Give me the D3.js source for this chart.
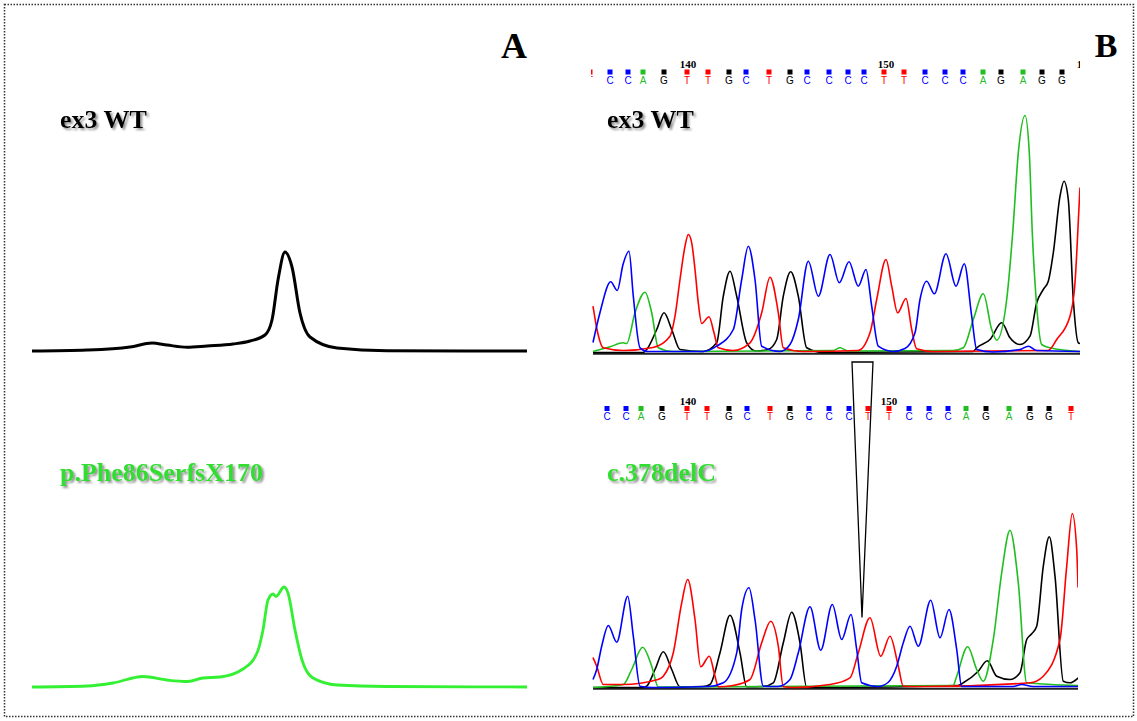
<!DOCTYPE html>
<html>
<head>
<meta charset="utf-8">
<script src="https://cdn.jsdelivr.net/npm/d3@7"></script>
<style>
body{margin:0;background:#fff;}
</style>
</head>
<body>
<div id="chart"></div>
<script>
// ---- panel A : elution profiles (x = time units, y = signal) ----
var wtProfile = [[0,0],[55,1],[98,4],[120,8],[135,6],[155,3.7],[175,5],[201,7],[218,10],[233,16],[240,31],[246,71],[253,99],[260,84],[268,38],[278,14],[305,3],[355,0.3],[495,0]];
var mutProfile = [[0,0],[55,1],[81,4],[111,10.5],[135,7],[156,5.5],[171,9],[188,10],[211,18],[225,34],[231,57],[236,87],[241,93],[244,90.5],[252,100],[256,94],[263,57],[270,27],[281,9],[305,2],[355,0.5],[495,0]];

// ---- panel B : chromatogram channels (x = scan, y = intensity) ----
var wtC = [[0,10],[7,40],[17.7,70.7],[24.3,62],[30,88],[36,101.3],[40.3,56.3],[47,4.7],[55,1],[110,1],[123.7,6.3],[140.3,23],[148.7,73],[155.3,106.3],[162,73],[168.7,6.3],[187,1],[197,8],[205.3,33],[215.3,91.3],[225.3,56.3],[237,98],[246.3,69.7],[256,90.7],[265.3,66.3],[273,83],[278.7,46.3],[285.3,6.3],[300,1],[312,4],[322,19.7],[327,53],[333.7,71.3],[341.3,58.7],[353,98.7],[363,66.3],[371.3,88.7],[378.7,36.3],[383.7,3],[400,0.5],[427,3],[435.3,6.3],[443.7,2],[487,1]];
var wtA = [[0,1],[17,5.7],[30.3,9.7],[33.7,9],[42,39.7],[52,60.3],[58.7,39.7],[65.3,4.7],[80,1],[240,2],[247,4.7],[255,1.5],[360,2],[370.3,4.7],[380.3,33],[390.3,58.7],[398.7,23],[403.7,12.3],[413.7,53],[419.7,119.7],[425.3,199.7],[432,237],[436.3,199.7],[439.3,119.7],[443.7,46.3],[448.7,8],[457,4.7],[487,1]];
var wtG = [[0,0],[50,0],[53.7,3],[63.7,23],[71,39.7],[78.7,23],[87,3],[110,1],[123.7,9.7],[130.3,56.3],[137,81.3],[143.7,56.3],[153.7,9.7],[163,1.5],[175,3],[183.7,13],[190.3,56.3],[197.7,80.7],[205.3,56.3],[213.7,4.7],[230,0],[380,1],[383.7,4.7],[397,13],[408.7,29.7],[417,14.7],[427,8],[437,16.3],[443.7,49.7],[450.3,63],[455.3,71.3],[460.3,99.7],[467,156.3],[471,171.3],[475.3,153],[480.3,53],[485.3,9.7],[487,9]];
var wtT = [[0,46.3],[4,23],[10.3,4.7],[30,2],[60,5],[77,16.3],[82,36.3],[87,73],[92,106.3],[95.3,118],[98.7,109.7],[102,83],[105.3,49.7],[108.7,29],[116,35.7],[121,19.7],[125.3,4.7],[140,2],[157,9.7],[168.7,39.7],[177,75.3],[185.3,39.7],[190.3,4.7],[210,1],[265,2],[277,19.7],[283.7,53],[293,93],[298.7,66.3],[304.7,39.7],[313,54],[318.7,23],[323.7,3.7],[340,1],[455,2],[463.7,13],[477,36.3],[482,69.7],[486.3,151.3],[487,165]];

var delC = [[0,8],[3.7,18],[8.7,41.3],[15.3,62],[23.7,45.3],[34.7,91.3],[40.3,51.3],[47,1.3],[60,0],[115,1],[130.3,4.7],[143.7,34.7],[148.7,78],[156,99.7],[162,68],[170.3,1.3],[185,1],[197,8],[205.3,34.7],[217,80.7],[227.7,37.3],[239.3,83],[248.7,48],[258,73],[263.7,38],[268.7,4.7],[285,1],[295,5],[303.7,21.3],[310.3,44.7],[317,61.3],[325.3,41.3],[337.7,87.3],[347,49.7],[356,78],[363.7,38],[368.7,1],[420,1],[428.7,3],[440,1],[485,1]];
var delA = [[0,0],[30.3,3],[38.7,18],[49.7,40.3],[58.7,21.3],[65.3,0.5],[80,0.5],[360,2],[363.7,11.3],[374.7,40.7],[383.7,18],[390.3,6.3],[400.3,48],[408.7,114.7],[417,157.3],[425.3,104.7],[433.7,4.7],[485,2]];
var delG = [[0,0],[50,0],[53.7,1.3],[62,18],[70.3,35.7],[78.7,18],[87,0.7],[110,1],[117,3],[127,34.7],[137,72.3],[147,34.7],[153.7,0.7],[170,1],[180.3,4.7],[190.3,44.7],[198.7,75.3],[207,44.7],[213.7,0],[230,0],[365,2],[370.3,4.7],[385.3,16.3],[394.3,26.7],[403.7,11.3],[417,8],[427,14.7],[433.7,48],[438.7,53.7],[443.7,61.3],[450.3,121.3],[456.3,150.7],[462,111.3],[470.3,6.3],[477,4.7],[485.3,9.7]];
var delT = [[0,30],[3.7,21.3],[10.3,3],[30,3],[65,8],[70.3,11.3],[80.3,34.7],[88.7,84.7],[94.7,108],[102,68],[107.7,20.7],[116.3,31.3],[122,11.3],[125.3,0.7],[140,2],[157,8],[168.7,44.7],[177.7,66.3],[185.3,41.3],[190.3,0.7],[200,0],[237,3],[257,9.7],[265.3,34.7],[277,69.7],[287.7,31.3],[297,51.3],[305.3,21.3],[310.3,1.3],[330,1],[437,4.7],[450.3,11.3],[467,48],[473.7,121.3],[479.3,174],[483.7,138],[485,100]];

// base calls
var wtSeq = "TCCAGTTGCTGCCCCTTCCCAGAGG".split("");
var wtSeqScan = [-3,17,35,50,71,94,115,136,153,176,197,214,236,255,271,291,311,332,352,370,390,408,430,449,469];
var wtTickNum = [140,150,160];
var wtTickScan = [95,293,492];

var delSeq = "CCAGTTGCTGCCCTTCCCAGAGGT".split("");
var delSeqScan = [14,33,48,69,94,114,136,154,177,197,216,236,256,275,296,316,336,355,373,393,416,437,456,478];
var delTickNum = [140,150];
var delTickScan = [95,296];

// deleted base marker (scan range in WT trace, tip scan / level in mutant trace)
var deletion = {from: 259, to: 280, tip: 269, level: 70};

var baseColor = {C: "#0000ff", A: "#1fbf1f", G: "#000000", T: "#ff0000"};

// ---- svg ----
var W = 1137, H = 721;
var svg = d3.select("#chart").append("svg")
  .attr("width", W).attr("height", H);

var defs = svg.append("defs");
var f = defs.append("filter").attr("id", "shadow").attr("x", "-10%").attr("y", "-30%").attr("width", "130%").attr("height", "160%");
f.append("feDropShadow").attr("dx", 2).attr("dy", 2).attr("stdDeviation", 0.8).attr("flood-color", "#777").attr("flood-opacity", 0.8);

defs.append("clipPath").attr("id", "clipTop").append("rect")
  .attr("x", 591).attr("y", 60).attr("width", 489).attr("height", 300);
defs.append("clipPath").attr("id", "clipBot").append("rect")
  .attr("x", 592).attr("y", 395).attr("width", 486).attr("height", 300);

// frame
svg.append("rect")
  .attr("x", 4.5).attr("y", 4.5).attr("width", 1129).attr("height", 712)
  .attr("fill", "none").attr("stroke", "#333").attr("stroke-width", 1.5)
  .attr("stroke-dasharray", "1.5,1.5");

// panel letters
svg.append("text").attr("x", 514).attr("y", 58).attr("text-anchor", "middle")
  .style("font", "bold 36px 'Liberation Serif', serif").text("A");
svg.append("text").attr("x", 1106).attr("y", 57).attr("text-anchor", "middle")
  .style("font", "bold 34px 'Liberation Serif', serif").text("B");

// ---- panel A ----
var xL = d3.scaleLinear().domain([0, 495]).range([32, 527]);
var yLTop = d3.scaleLinear().domain([0, 100]).range([351, 251]);
var yLBot = d3.scaleLinear().domain([0, 100]).range([687, 587]);

var lineLTop = d3.line().x(function(d){return xL(d[0]);}).y(function(d){return yLTop(d[1]);}).curve(d3.curveMonotoneX);
var lineLBot = d3.line().x(function(d){return xL(d[0]);}).y(function(d){return yLBot(d[1]);}).curve(d3.curveMonotoneX);

svg.append("path").attr("d", lineLTop(wtProfile))
  .attr("fill", "none").attr("stroke", "#000").attr("stroke-width", 3);
svg.append("path").attr("d", lineLBot(mutProfile))
  .attr("fill", "none").attr("stroke", "#33f033").attr("stroke-width", 2.8);

function label(x, y, txt, col) {
  svg.append("text").attr("x", x).attr("y", y)
    .attr("filter", "url(#shadow)")
    .style("font", "bold 26px 'Liberation Serif', serif")
    .style("fill", col).text(txt);
}
label(60, 128, "ex3 WT", "#000");
label(60, 481, "p.Phe86SerfsX170", "#33dd33");
label(607, 128, "ex3 WT", "#000");
label(607, 481, "c.378delC", "#33dd33");

// ---- panel B ----
var xR = d3.scaleLinear().domain([0, 487]).range([593, 1080]);
var yRTop = d3.scaleLinear().domain([0, 240]).range([352.5, 112.5]);
var yRBot = d3.scaleLinear().domain([0, 240]).range([687.5, 447.5]);

function drawTrace(channels, yS, clipId, xEnd) {
  var g = svg.append("g").attr("clip-path", "url(#" + clipId + ")");
  g.append("line")
    .attr("x1", xR(0)).attr("x2", xEnd)
    .attr("y1", yS(0) + 1.2).attr("y2", yS(0) + 1.2)
    .attr("stroke", "#222").attr("stroke-width", 2);
  var ln = d3.line().x(function(d){return xR(d[0]);}).y(function(d){return yS(d[1]);}).curve(d3.curveMonotoneX);
  channels.forEach(function(c) {
    g.append("path").attr("d", ln(c.data))
      .attr("fill", "none").attr("stroke", baseColor[c.base]).attr("stroke-width", 1.6);
  });
}
drawTrace([{base:"G",data:wtG},{base:"A",data:wtA},{base:"T",data:wtT},{base:"C",data:wtC}], yRTop, "clipTop", 1080);
drawTrace([{base:"G",data:delG},{base:"A",data:delA},{base:"T",data:delT},{base:"C",data:delC}], yRBot, "clipBot", 1078);

function drawCalls(seq, scans, tickNum, tickScan, ySq, clipId) {
  var g = svg.append("g").attr("clip-path", "url(#" + clipId + ")");
  g.selectAll("rect.sq").data(seq).enter().append("rect")
    .attr("x", function(d, i){return xR(scans[i]) - 2.5;})
    .attr("y", ySq - 2.5).attr("width", 5).attr("height", 5)
    .attr("fill", function(d){return baseColor[d];});
  g.selectAll("text.b").data(seq).enter().append("text")
    .attr("x", function(d, i){return xR(scans[i]);})
    .attr("y", ySq + 11.5).attr("text-anchor", "middle")
    .style("font", "10px 'Liberation Sans', sans-serif")
    .attr("fill", function(d){return baseColor[d];})
    .text(function(d){return d;});
  g.selectAll("text.n").data(tickNum).enter().append("text")
    .attr("x", function(d, i){return xR(tickScan[i]);})
    .attr("y", ySq - 4).attr("text-anchor", "middle")
    .style("font", "bold 11px 'Liberation Serif', serif")
    .attr("fill", "#000").text(function(d){return d;});
}
drawCalls(wtSeq, wtSeqScan, wtTickNum, wtTickScan, 72, "clipTop");
drawCalls(delSeq, delSeqScan, delTickNum, delTickScan, 408.5, "clipBot");

// deletion wedge
var wedge = [
  [xR(deletion.from), yRTop(0) + 9.5],
  [xR(deletion.to), yRTop(0) + 9.5],
  [xR(deletion.tip), yRBot(deletion.level)]
];
svg.append("path").attr("d", d3.line()(wedge) + "Z")
  .attr("fill", "none").attr("stroke", "#000").attr("stroke-width", 1.3);
</script>
</body>
</html>
